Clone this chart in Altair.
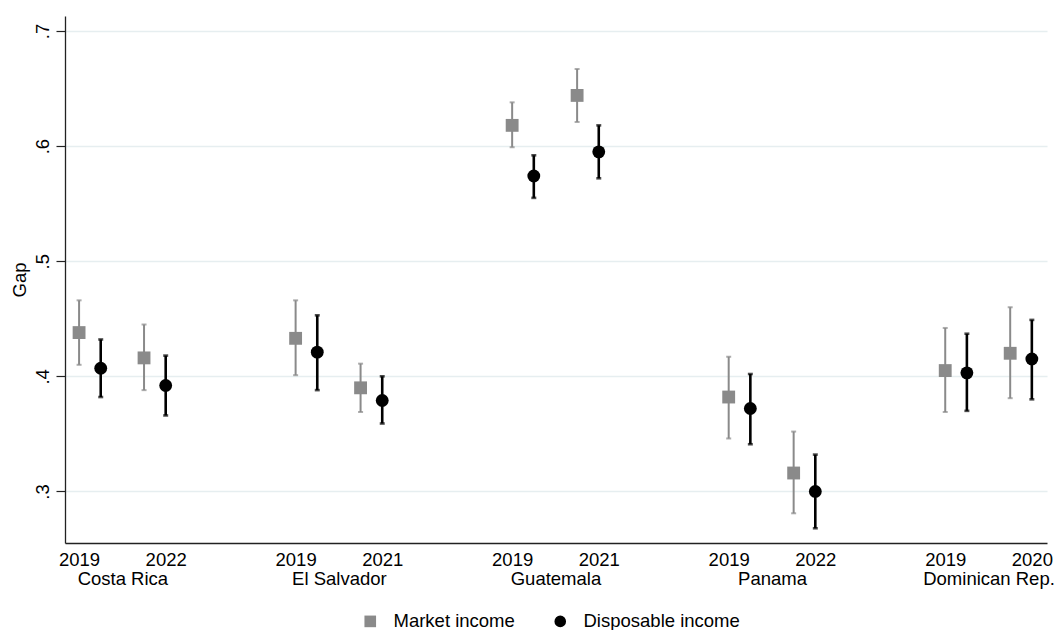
import altair as alt
import pandas as pd

# Countries and the two survey years compared for each
countries = ["Costa Rica", "El Salvador", "Guatemala", "Panama", "Dominican Rep."]
years = [[2019, 2022], [2019, 2021], [2019, 2021], [2019, 2022], [2019, 2020]]

# Gap estimates with confidence bounds, one entry per country-year (in order)
market_gap = [0.438, 0.416, 0.433, 0.390, 0.618, 0.644, 0.382, 0.316, 0.405, 0.420]
market_lo = [0.410, 0.388, 0.401, 0.369, 0.599, 0.621, 0.346, 0.281, 0.369, 0.381]
market_hi = [0.466, 0.445, 0.466, 0.411, 0.638, 0.667, 0.417, 0.352, 0.442, 0.460]

disp_gap = [0.407, 0.392, 0.421, 0.379, 0.574, 0.595, 0.372, 0.300, 0.403, 0.415]
disp_lo = [0.382, 0.366, 0.388, 0.359, 0.555, 0.572, 0.341, 0.268, 0.370, 0.380]
disp_hi = [0.432, 0.418, 0.453, 0.400, 0.592, 0.618, 0.402, 0.332, 0.437, 0.449]

series_names = ["Market income", "Disposable income"]
series_vals = [(market_gap, market_lo, market_hi), (disp_gap, disp_lo, disp_hi)]

# Layout on the x axis: countries 10 units apart, years 3 apart, series 1 apart
COUNTRY_STEP, YEAR_STEP = 10, 3

rows = []
for si, (name, (g, lo, hi)) in enumerate(zip(series_names, series_vals)):
    k = 0
    for ci, country in enumerate(countries):
        for yi, yr in enumerate(years[ci]):
            rows.append({
                "series": name,
                "country": country,
                "year": yr,
                "pos": ci * COUNTRY_STEP + yi * YEAR_STEP + si,
                "gap": g[k], "lo": lo[k], "hi": hi[k],
            })
            k += 1
df = pd.DataFrame(rows)

# Axis labels: first year under the market-income marker, second year under
# the disposable-income marker, country name centred on a second line
tick_values, tick_labels = [], []
for ci, country in enumerate(countries):
    base = ci * COUNTRY_STEP
    last = base + YEAR_STEP + 1
    tick_values += [base, (base + last) / 2, last]
    tick_labels += [[str(years[ci][0]), ""], ["", country], [str(years[ci][1]), ""]]

expr = "''"
for v, lab in reversed(list(zip(tick_values, tick_labels))):
    expr = f"datum.value == {v} ? ['{lab[0]}', '{lab[1]}'] : ({expr})"

FONT = "Liberation Sans"
FS = 18.5
GRAY = "#8a8a8a"
BLACK = "#000000"

x_scale = alt.Scale(domain=[-0.65, 44.7], nice=False, zero=False)
y_scale = alt.Scale(domain=[0.2552, 0.713], nice=False, zero=False)

x_enc = alt.X(
    "pos:Q", scale=x_scale, title=None,
    axis=alt.Axis(values=tick_values, labelExpr=expr, ticks=False, grid=False,
                  labelOverlap=False, labelBound=False, labelFlush=False,
                  labelPadding=7, labelLineHeight=19, labelFont=FONT,
                  labelFontSize=FS, labelColor="#000000", domainColor="#222222",
                  domainWidth=1.3),
)
y_enc = alt.Y(
    "gap:Q", scale=y_scale, title="Gap",
    axis=alt.Axis(values=[0.3, 0.4, 0.5, 0.6, 0.7],
                  labelExpr="slice(format(datum.value, '.1f'), 1)",
                  labelAngle=270, labelAlign="center", labelBaseline="alphabetic",
                  labelPadding=8, tickSize=9, tickColor="#222222", tickWidth=1.2,
                  domainColor="#222222", domainWidth=1.3, gridColor="#e6eef0",
                  gridWidth=1.3, labelFont=FONT, labelFontSize=FS,
                  labelColor="#000000", titleFont=FONT, titleFontSize=FS,
                  titleFontWeight="normal", titleColor="#000000",
                  titlePadding=4),
)

base = alt.Chart(df)

layers = []
for name, col, w in [("Market income", GRAY, 2.0), ("Disposable income", BLACK, 2.6)]:
    sub = base.transform_filter(alt.datum.series == name)
    layers.append(sub.mark_rule(color=col, strokeWidth=w).encode(
        x=x_enc, y=alt.Y("lo:Q", scale=y_scale), y2="hi:Q"))
    for end in ["lo", "hi"]:
        layers.append(sub.mark_tick(color=col, orient="horizontal", size=5,
                                    thickness=w).encode(
            x=alt.X("pos:Q", scale=x_scale), y=alt.Y(f"{end}:Q", scale=y_scale)))

points = base.mark_point(filled=True, opacity=1, size=165).encode(
    x=x_enc,
    y=y_enc,
    color=alt.Color("series:N", scale=alt.Scale(domain=series_names, range=[GRAY, BLACK]),
                    legend=alt.Legend(title=None, orient="none", direction="horizontal",
                                      legendX=296, legendY=596, symbolSize=135,
                                      labelFont=FONT, labelFontSize=FS,
                                      labelColor="#000000", labelOffset=14,
                                      columnPadding=36, symbolStrokeWidth=0)),
    shape=alt.Shape("series:N", scale=alt.Scale(domain=series_names, range=["square", "circle"])),
)

chart = alt.layer(*layers, points).properties(
    width=982, height=527,
    autosize=alt.AutoSizeParams(type="none"),
    padding={"left": 65, "top": 16, "right": 9, "bottom": 87},
    view=alt.ViewBackground(stroke="transparent", strokeOpacity=0, strokeWidth=0),
).configure(background="white")

chart.save("out.html", embed_options={"renderer": "svg", "actions": False})
